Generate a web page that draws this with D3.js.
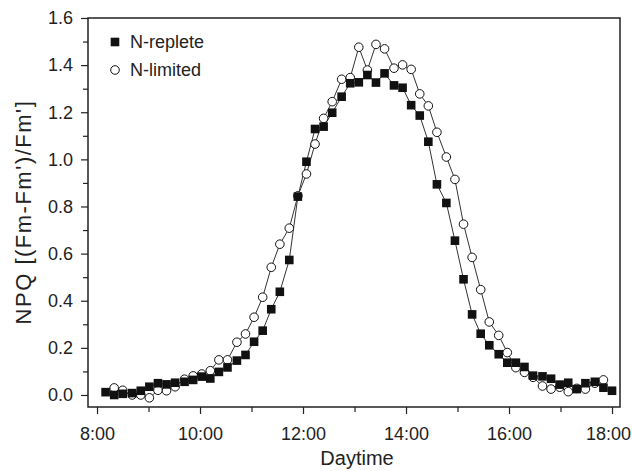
<!DOCTYPE html>
<html>
<head>
<meta charset="utf-8">
<script src="https://cdn.jsdelivr.net/npm/d3@7"></script>
<style>
body { margin: 0; background: #fff; }
svg { font-family: "Liberation Sans", Arial, sans-serif; }
</style>
</head>
<body>
<script>
// Sampling times
const times = ["8:10","8:20","8:30","8:41","8:51","9:01","9:11","9:21","9:31","9:42",
"9:52","10:02","10:12","10:22","10:32","10:43","10:53","11:03","11:13","11:23",
"11:33","11:44","11:54","12:04","12:14","12:24","12:34","12:45","12:55","13:05",
"13:15","13:25","13:35","13:46","13:56","14:06","14:16","14:26","14:36","14:47",
"14:57","15:07","15:17","15:27","15:37","15:48","15:58","16:08","16:18","16:28",
"16:39","16:49","16:59","17:09","17:19","17:29","17:40","17:50","18:00"];

// NPQ, N-replete (one value per time)
const replete = [0.012,0.0,0.005,0.008,0.018,0.035,0.05,0.045,0.052,0.056,
0.064,0.078,0.07,0.098,0.117,0.146,0.17,0.226,0.273,0.364,
0.438,0.573,0.842,0.99,1.129,1.139,1.198,1.266,1.323,1.327,
1.358,1.326,1.365,1.314,1.304,1.23,1.186,1.075,0.894,0.815,
0.655,0.491,0.342,0.26,0.211,0.173,0.137,0.137,0.119,0.082,
0.079,0.069,0.044,0.052,0.025,0.05,0.056,0.031,0.018];

// NPQ, N-limited (null = no measurement)
const limited = [null,0.03,0.02,0.0,0.0,-0.012,0.02,0.018,0.035,0.067,
0.081,0.089,0.103,0.149,0.149,0.224,0.259,0.33,0.415,0.542,
0.64,0.708,0.845,0.938,1.065,1.174,1.245,1.34,1.347,1.476,
1.379,1.488,1.469,1.387,1.401,1.382,1.278,1.227,1.115,1.01,
0.915,0.725,0.584,0.447,0.31,0.253,0.18,0.116,0.096,0.075,
0.038,0.025,0.033,0.014,0.028,0.025,0.05,0.064,null];

const xTicks = [8,10,12,14,16,18];
const xMinor = [9,11,13,15,17];
const yTicks = [0,0.2,0.4,0.6,0.8,1.0,1.2,1.4,1.6];
const yMinor = [0.1,0.3,0.5,0.7,0.9,1.1,1.3,1.5];

function toHours(s){
  const p = s.split(":");
  return +p[0] + (+p[1])/60;
}

const width = 632, height = 471;
const plot = {left:88, right:620, top:18, bottom:407};

const svg = d3.select("body").append("svg")
  .attr("width", width)
  .attr("height", height);

const x = d3.scaleLinear().domain([7.825, 18.155]).range([plot.left, plot.right]);
const y = d3.scaleLinear().domain([-0.051, 1.6]).range([plot.bottom, plot.top]);

// axes
const gx = svg.append("g")
  .attr("transform", "translate(0," + plot.bottom + ")")
  .call(d3.axisBottom(x).tickValues(xTicks).tickSize(7).tickPadding(13)
    .tickFormat(function(d){ return d + ":00"; }));
const gxm = svg.append("g")
  .attr("transform", "translate(0," + plot.bottom + ")")
  .call(d3.axisBottom(x).tickValues(xMinor).tickSize(5).tickFormat(""));

const gy = svg.append("g")
  .attr("transform", "translate(" + plot.left + ",0)")
  .call(d3.axisLeft(y).tickValues(yTicks).tickSize(7).tickPadding(8)
    .tickFormat(d3.format(".1f")));
const gym = svg.append("g")
  .attr("transform", "translate(" + plot.left + ",0)")
  .call(d3.axisLeft(y).tickValues(yMinor).tickSize(5).tickFormat(""));

[gx, gxm, gy, gym].forEach(function(g){
  g.select(".domain").remove();
  g.selectAll("line").attr("stroke", "#222").attr("stroke-width", 1.2);
  g.selectAll("text").attr("font-size", "18px").attr("fill", "#222")
    .attr("font-family", "'Liberation Sans', Arial, sans-serif");
});

// last x label sits a little left so it stays inside the page
gx.selectAll(".tick text").filter(function(d){ return d === 18; }).attr("dx", -4);

// frame
svg.append("rect")
  .attr("x", plot.left).attr("y", plot.top)
  .attr("width", plot.right - plot.left).attr("height", plot.bottom - plot.top)
  .attr("fill", "none").attr("stroke", "#222").attr("stroke-width", 1.5);

// axis titles
svg.append("text")
  .attr("x", 357)
  .attr("y", 465)
  .attr("text-anchor", "middle")
  .attr("font-size", "20px")
  .attr("fill", "#222")
  .text("Daytime");

svg.append("text")
  .attr("transform", "rotate(-90)")
  .attr("x", -212)
  .attr("y", 31)
  .attr("text-anchor", "middle")
  .attr("font-size", "22px")
  .attr("letter-spacing", "1.5px")
  .attr("fill", "#222")
  .text("NPQ [(Fm-Fm')/Fm']");

// series
const rep = times.map(function(t, i){ return {t: toHours(t), v: replete[i]}; });
const lim = times.map(function(t, i){ return {t: toHours(t), v: limited[i]}; })
  .filter(function(d){ return d.v !== null; });

const line = d3.line()
  .x(function(d){ return x(d.t); })
  .y(function(d){ return y(d.v); });

svg.append("path").datum(lim)
  .attr("d", line).attr("fill", "none")
  .attr("stroke", "#333").attr("stroke-width", 1);
svg.append("path").datum(rep)
  .attr("d", line).attr("fill", "none")
  .attr("stroke", "#333").attr("stroke-width", 1);

svg.selectAll("circle.lim")
  .data(lim)
  .enter()
  .append("circle")
  .attr("class", "lim")
  .attr("cx", function(d){ return x(d.t); })
  .attr("cy", function(d){ return y(d.v); })
  .attr("r", 4.3)
  .attr("fill", "#fff")
  .attr("stroke", "#111")
  .attr("stroke-width", 1);

const sq = 8.6;
svg.selectAll("rect.rep")
  .data(rep)
  .enter()
  .append("rect")
  .attr("class", "rep")
  .attr("x", function(d){ return x(d.t) - sq / 2; })
  .attr("y", function(d){ return y(d.v) - sq / 2; })
  .attr("width", sq)
  .attr("height", sq)
  .attr("fill", "#111");

// legend
const legend = svg.append("g").attr("transform", "translate(115,0)");
legend.append("rect")
  .attr("x", -sq / 2).attr("y", 42 - sq / 2)
  .attr("width", sq).attr("height", sq)
  .attr("fill", "#111");
legend.append("circle")
  .attr("cx", 0).attr("cy", 70).attr("r", 4.3)
  .attr("fill", "#fff").attr("stroke", "#111").attr("stroke-width", 1);
legend.append("text")
  .attr("x", 15).attr("y", 48)
  .attr("font-size", "18px").attr("fill", "#222")
  .text("N-replete");
legend.append("text")
  .attr("x", 15).attr("y", 76)
  .attr("font-size", "18px").attr("fill", "#222")
  .text("N-limited");
</script>
</body>
</html>
